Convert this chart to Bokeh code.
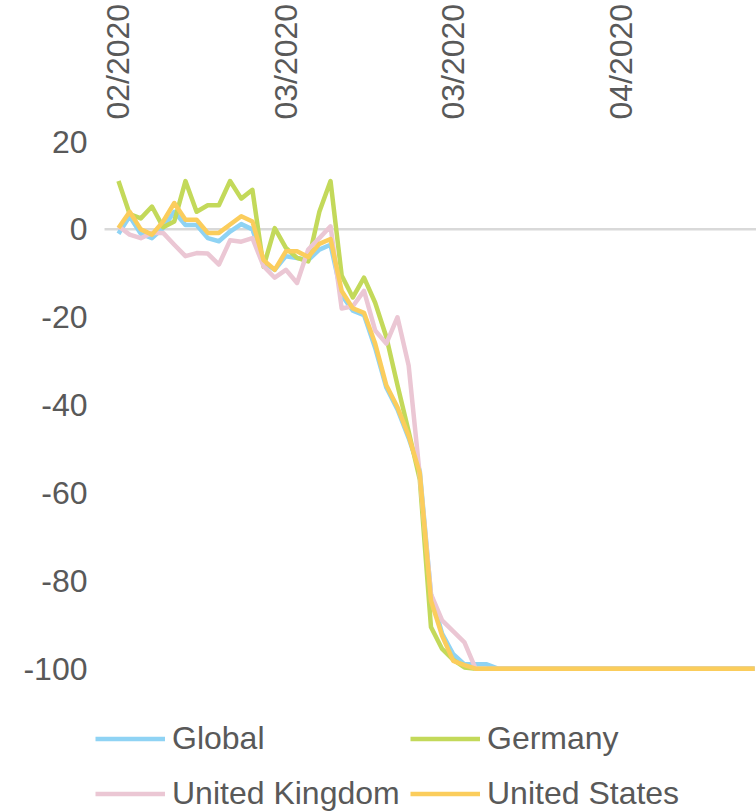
import pandas as pd
from bokeh.plotting import figure
from bokeh.models import Range1d, FixedTicker, Legend, LegendItem, DatetimeTickFormatter
from bokeh.embed import file_html
from bokeh.resources import INLINE

# ---------------- data ----------------
start_date = "2020-02-18"
tick_dates = ["2020-02-18", "2020-03-04", "2020-03-19", "2020-04-03"]
y_ticks = [20, 0, -20, -40, -60, -80, -100]
y_tick_labels = ["20", "0", "-20", "-40", "-60", "-80", "-100"]
series_names = ["Global", "Germany", "United Kingdom", "United States"]

global_vals = [-1, 3, -1, -2, 0.3, 4, 1, 1, -2, -2.7,
               -0.5, 1.2, 0, -7.5, -9.2, -6.1, -6.5, -7, -4.6, -3.5,
               -15, -18.5, -19.5, -27, -36, -41, -47.5, -55, -83, -92,
               -96.7, -99, -99, -99, -100, -100, -100, -100, -100, -100,
               -100, -100, -100, -100, -100, -100, -100, -100, -100, -100,
               -100, -100, -100, -100, -100, -100, -100, -100]
germany_vals = [11, 3.5, 2.5, 5.2, 0.5, 1.8, 11, 4, 5.5, 5.5,
                11, 7, 9, -8.5, 0.3, -4.2, -6.5, -7.3, 4, 11,
                -10.5, -15.5, -11, -16.7, -24.5, -35.5, -46, -57, -90.5, -95.5,
                -98, -99.7, -100, -100, -100, -100, -100, -100, -100, -100,
                -100, -100, -100, -100, -100, -100, -100, -100, -100, -100,
                -100, -100, -100, -100, -100, -100, -100, -100]
uk_vals = [0.7, -1.2, -2, -0.8, -0.8, -3.5, -6.1, -5.4, -5.5, -8,
           -2.5, -2.8, -2, -8.4, -11, -9.2, -12.2, -4.6, -2, 0.7,
           -18, -17.5, -14, -23, -26, -20, -31, -56, -83, -89,
           -91.5, -94, -100, -100, -100, -100, -100, -100, -100, -100,
           -100, -100, -100, -100, -100, -100, -100, -100, -100, -100,
           -100, -100, -100, -100, -100, -100, -100, -100]
us_vals = [0.3, 4, 0, -1.2, 1.8, 6, 2.2, 2.2, -0.8, -0.8,
           1.1, 3, 1.8, -7, -9.2, -5, -5, -6.3, -3.3, -2.2,
           -14, -18, -19, -26, -35.5, -40.5, -47, -55.5, -84.5, -92.5,
           -98.2, -99.2, -100, -100, -100, -100, -100, -100, -100, -100,
           -100, -100, -100, -100, -100, -100, -100, -100, -100, -100,
           -100, -100, -100, -100, -100, -100, -100, -100]

# ---------------- styling ----------------
colors = ["#8FD3F4", "#C3D95A", "#EBC7D4", "#FBCD5C"]
FONT = "Liberation Sans"
TXT = "#595959"
FS = "32px"

dates = pd.date_range(start_date, periods=len(global_vals), freq="D")
DAY = 86400000.0
t0 = pd.Timestamp(start_date).value / 1e6
x_start = t0 - 2.06 * DAY        # frame edge (leaves room for the legend keys)
axis_start = t0 - 1.25 * DAY     # where the chart's plot area (zero line) begins
x_end = t0 + 57.17 * DAY

p = figure(width=756, height=811, x_axis_type="datetime", x_axis_location="above",
           x_range=Range1d(x_start, x_end),
           y_range=Range1d(-132.5, 22.05),
           output_backend="svg", toolbar_location=None,
           min_border_left=95, min_border_right=0, min_border_top=131, min_border_bottom=0)
p.outline_line_color = None
p.xgrid.visible = False
p.ygrid.visible = False
p.background_fill_color = "white"
p.border_fill_color = "white"

# zero reference line of the value axis
p.segment(x0=[axis_start], y0=[0], x1=[x_end], y1=[0], line_color="#D9D9D9", line_width=2.5)

renderers = []
for vals, c in zip([global_vals, germany_vals, uk_vals, us_vals], colors):
    r = p.line(dates, vals, line_color=c, line_width=4.5, line_join="round")
    renderers.append(r)

xa = p.xaxis[0]
xa.ticker = FixedTicker(ticks=[pd.Timestamp(d).value / 1e6 for d in tick_dates])
xa.formatter = DatetimeTickFormatter(days="%m/%Y", months="%m/%Y", hours="%m/%Y",
                                     years="%m/%Y", minutes="%m/%Y", seconds="%m/%Y",
                                     minsec="%m/%Y", hourmin="%m/%Y",
                                     milliseconds="%m/%Y", microseconds="%m/%Y")
xa.major_label_orientation = 3.141592653589793 / 2
xa.axis_line_color = None
xa.major_tick_line_color = None
xa.minor_tick_line_color = None
xa.major_tick_out = 0
xa.major_tick_in = 0
xa.major_label_standoff = 13
xa.major_label_text_font = FONT
xa.major_label_text_font_size = FS
xa.major_label_text_color = TXT

ya = p.yaxis[0]
ya.ticker = FixedTicker(ticks=y_ticks)
ya.major_label_overrides = {t: s for t, s in zip(y_ticks, y_tick_labels)}
ya.axis_line_color = None
ya.major_tick_line_color = None
ya.minor_tick_line_color = None
ya.major_tick_out = 0
ya.major_tick_in = 0
ya.major_label_standoff = 8
ya.major_label_text_font = FONT
ya.major_label_text_font_size = FS
ya.major_label_text_color = TXT

legend = Legend(
    items=[LegendItem(label=n, renderers=[r]) for n, r in zip(series_names, renderers)],
    orientation="horizontal", ncols=2,
    location=(0, -4.5),
    glyph_width=70, glyph_height=45, label_height=45, label_width=228,
    label_standoff=7, spacing=10, padding=0, margin=0,
    border_line_color=None, background_fill_alpha=0,
    label_text_font=FONT, label_text_font_size=FS, label_text_color=TXT,
)
p.add_layout(legend)

open("out.html", "w").write(file_html(p, INLINE))
